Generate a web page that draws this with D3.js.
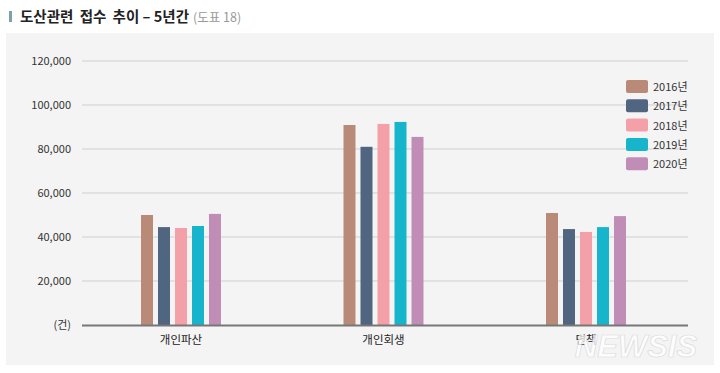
<!DOCTYPE html>
<html><head><meta charset="utf-8">
<script src="https://cdn.jsdelivr.net/npm/d3@7"></script>
<style>
body{margin:0;background:#fff;}
svg{display:block;font-family:"Noto Sans CJK KR","Noto Sans",sans-serif;}
</style></head>
<body>
<svg id="c" width="720" height="373"></svg>
<script>
const categories = ["개인파산", "개인회생", "면책"];
const years = ["2016년", "2017년", "2018년", "2019년", "2020년"];
const values2016 = [50000, 90900, 50900];
const values2017 = [44500, 81000, 43600];
const values2018 = [44100, 91400, 42300];
const values2019 = [45000, 92300, 44500];
const values2020 = [50500, 85500, 49500];
const yTicks = [0, 20000, 40000, 60000, 80000, 100000, 120000];
const colors = ["#b98a77", "#4f6580", "#f4a0a8", "#17b5cc", "#bf8db6"];

const series = [values2016, values2017, values2018, values2019, values2020];
const svg = d3.select("#c");

// panel
svg.append("rect").attr("x", 6).attr("y", 33).attr("width", 708).attr("height", 332).attr("fill", "#f4f4f4");

// title
svg.append("rect").attr("x", 9).attr("y", 11).attr("width", 3).attr("height", 11).attr("fill", "#7fa0a8");
const t = svg.append("text").attr("x", 20).attr("y", 22).attr("font-size", 14.5).attr("fill", "#222");
t.append("tspan").attr("font-weight", "bold").attr("word-spacing", 3).text("도산관련 접수 추이");
t.append("tspan").attr("font-weight", "bold").text(" – 5년간");
t.append("tspan").attr("dx", 4).attr("font-size", 12.5).attr("fill", "#999").text("(도표 18)");

const y = d3.scaleLinear().domain([0, 120000]).range([325, 61]);
const x0 = d3.scalePoint().domain(categories).range([181, 586]);
const x1 = d3.scaleBand().domain(d3.range(5)).range([-40, 40]).paddingInner(0.294).paddingOuter(0);

// grid
svg.append("g").selectAll("line").data(yTicks.filter(d => d > 0)).join("line")
  .attr("x1", 82).attr("x2", 688).attr("y1", d => y(d)).attr("y2", d => y(d))
  .attr("stroke", "#cfcfcf").attr("stroke-width", 1);

// y labels
svg.append("g").selectAll("text").data(yTicks).join("text")
  .attr("x", 71).attr("y", d => y(d) + 4).attr("text-anchor", "end")
  .attr("font-size", 11).attr("fill", "#333")
  .text(d => d === 0 ? "(건)" : d3.format(",")(d));

// bars
const groups = svg.append("g").selectAll("g").data(categories).join("g")
  .attr("transform", c => `translate(${x0(c)},0)`);
groups.selectAll("rect").data((c, i) => series.map((s, k) => ({k, v: s[i]}))).join("rect")
  .attr("x", d => x1(d.k)).attr("width", x1.bandwidth())
  .attr("y", d => y(d.v)).attr("height", d => y(0) - y(d.v))
  .attr("fill", d => colors[d.k]);

// axis line
svg.append("line").attr("x1", 82).attr("x2", 688).attr("y1", 325.5).attr("y2", 325.5)
  .attr("stroke", "#777").attr("stroke-width", 2);

// x labels
svg.append("g").selectAll("text").data(categories).join("text")
  .attr("x", c => x0(c)).attr("y", 344).attr("text-anchor", "middle")
  .attr("font-size", 11.5).attr("fill", "#222").text(c => c);

// legend
const lg = svg.append("g").selectAll("g").data(years).join("g")
  .attr("transform", (d, i) => `translate(626,${80 + i * 19.3})`);
lg.append("rect").attr("width", 22).attr("height", 13).attr("rx", 2).attr("fill", (d, i) => colors[i]);
lg.append("text").attr("x", 27).attr("y", 11).attr("font-size", 11).attr("fill", "#333").text(d => d);

// watermark
svg.append("text").attr("x", 636).attr("y", 357).attr("text-anchor", "middle")
  .attr("font-size", 31).attr("font-weight", "bold").attr("font-style", "italic")
  .attr("font-family", "Liberation Sans, sans-serif")
  .attr("fill", "#ffffff").attr("stroke", "#d4d4d4").attr("stroke-width", 0.7)
  .attr("opacity", 0.75).text("NEWSIS");
</script>
</body></html>
